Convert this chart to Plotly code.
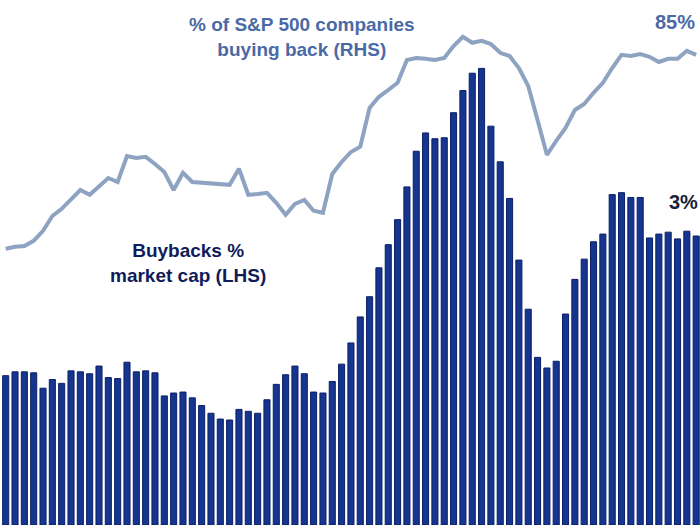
import plotly.graph_objects as go

# Period index (quarters, oldest to latest)
periods = list(range(75))

# Buybacks as % of market cap (LHS)
buybacks_pct_mcap = [
    1.55, 1.59, 1.59, 1.58, 1.42, 1.51, 1.47, 1.60, 1.59, 1.57,
    1.65, 1.53, 1.52, 1.69, 1.59, 1.60, 1.58, 1.34, 1.37, 1.38,
    1.32, 1.24, 1.16, 1.10, 1.09, 1.20, 1.18, 1.16, 1.30, 1.46,
    1.56, 1.65, 1.57, 1.38, 1.37, 1.49, 1.67, 1.89, 2.16, 2.37,
    2.67, 2.91, 3.17, 3.51, 3.88, 4.07, 4.01, 4.02, 4.28, 4.51,
    4.69, 4.74, 4.14, 3.77, 3.39, 2.75, 2.24, 1.74, 1.63, 1.70,
    2.19, 2.55, 2.76, 2.94, 3.02, 3.43, 3.45, 3.40, 3.40, 2.98,
    3.02, 3.04, 2.97, 3.05, 3.00,
]

# % of S&P 500 companies buying back (RHS)
pct_companies_buying = [
    35.8, 36.3, 36.5, 37.8, 40.3, 44.0, 45.8, 48.0, 50.5, 49.3,
    51.5, 53.5, 52.5, 59.0, 58.5, 58.8, 57.0, 55.0, 50.5, 54.8,
    52.5, 52.3, 52.0, 51.8, 51.8, 55.8, 49.3, 49.5, 49.8, 47.3,
    44.3, 47.0, 48.0, 45.3, 44.8, 54.5, 57.5, 60.0, 61.3, 71.0,
    73.8, 75.5, 77.3, 83.0, 83.5, 83.3, 83.0, 83.5, 86.5, 88.8,
    87.3, 87.8, 87.0, 84.8, 84.0, 81.0, 76.5, 68.0, 59.3, 62.8,
    66.0, 70.5, 72.0, 74.8, 77.3, 81.0, 84.3, 84.0, 84.5, 83.8,
    82.5, 83.3, 83.3, 85.3, 84.3,
]

FONT = "Liberation Sans, Arial, sans-serif"

fig = go.Figure()
fig.add_trace(go.Bar(
    x=periods, y=buybacks_pct_mcap,
    marker=dict(color="#16358f", line=dict(color="#0b1f66", width=1)),
    yaxis="y", showlegend=False,
))
fig.add_trace(go.Scatter(
    x=periods, y=pct_companies_buying, mode="lines",
    line=dict(color="#8ea3c1", width=4),
    yaxis="y2", showlegend=False,
))

fig.update_layout(
    width=700, height=525,
    margin=dict(l=0, r=0, t=0, b=0),
    paper_bgcolor="white", plot_bgcolor="white",
    bargap=0.35,
    xaxis=dict(range=[-0.61, 74.41], visible=False),
    yaxis=dict(range=[0, 5.45], visible=False),
    yaxis2=dict(range=[-33.25, 98], overlaying="y", side="right", visible=False),
    annotations=[
        dict(text="<b>% of S&P 500 companies<br>buying back (RHS)</b>",
             xref="paper", yref="paper", x=302/700, y=1-36.5/525,
             xanchor="center", yanchor="middle", showarrow=False,
             font=dict(family=FONT, size=19, color="#4a6aa5")),
        dict(text="<b>85%</b>",
             xref="paper", yref="paper", x=675/700, y=1-22/525,
             xanchor="center", yanchor="middle", showarrow=False,
             font=dict(family=FONT, size=20, color="#4a6aa5")),
        dict(text="<b>Buybacks %<br>market cap (LHS)</b>",
             xref="paper", yref="paper", x=188/700, y=1-262.5/525,
             xanchor="center", yanchor="middle", showarrow=False,
             font=dict(family=FONT, size=19, color="#101c5a")),
        dict(text="<b>3%</b>",
             xref="paper", yref="paper", x=683/700, y=1-202/525,
             xanchor="center", yanchor="middle", showarrow=False,
             font=dict(family=FONT, size=20, color="#1a1f3a")),
    ],
)

fig.write_html("out.html", config={"displayModeBar": False},
               post_script="document.body.style.margin='0';")
